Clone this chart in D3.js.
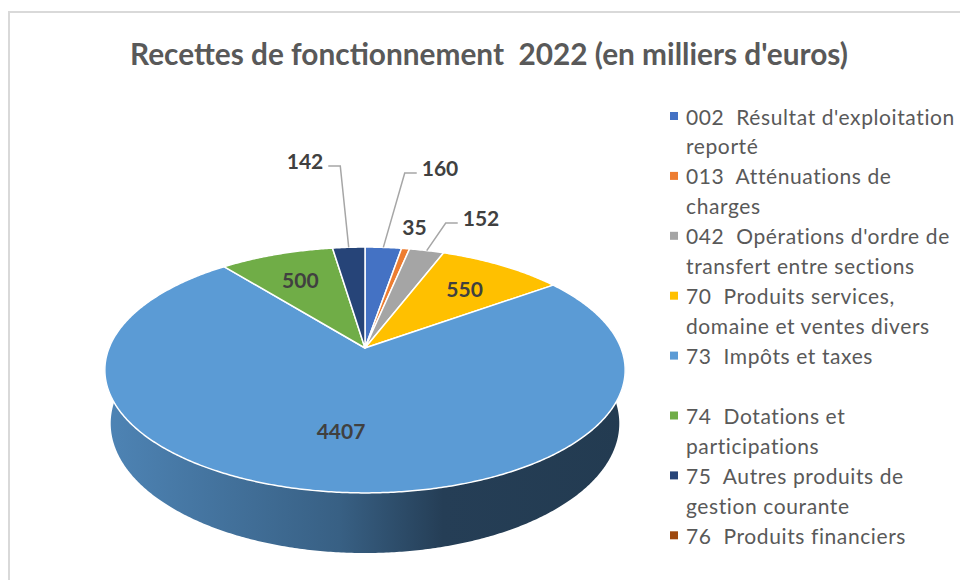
<!DOCTYPE html>
<html>
<head>
<meta charset="utf-8">
<script src="https://cdn.jsdelivr.net/npm/d3@7"></script>
<style>
  body { margin: 0; background: #fff; }
  svg { display: block; }
  text { white-space: pre; }
</style>
</head>
<body>
<div id="chart"></div>
<script>
// data
const title = "Recettes de fonctionnement  2022 (en milliers d'euros)";
const categories = [
    "002  Résultat d'exploitation\nreporté",
    "013  Atténuations de\ncharges",
    "042  Opérations d'ordre de\ntransfert entre sections",
    "70  Produits services,\ndomaine et ventes divers",
    "73  Impôts et taxes",
    "74  Dotations et\nparticipations",
    "75  Autres produits de\ngestion courante",
    "76  Produits financiers"
];
const values = [160, 35, 152, 550, 4407, 500, 142, 0];
const colors = ["#4472C4", "#ED7D31", "#A5A5A5", "#FFC000", "#5B9BD5", "#70AD47", "#264478", "#9E480E"];

const width = 960, height = 580;
const cx = 365, cy = 348;              // where the slices meet on screen
// simple perspective camera for the 3d pie
const cam = {f: 1267, dist: 4.95, tilt: 27.7 * Math.PI / 180, thick: 0.238};
// labels that Excel pushed outside, offset from the pie centre
const pushedLabels = {0: [75, -181], 2: [116, -131], 6: [-60, -188]};

function project(t, a, h) {
    let X = t * Math.sin(a), Z = t * Math.cos(a);
    let depth = cam.dist + Z * Math.cos(cam.tilt) - h * Math.sin(cam.tilt);
    let up = h * Math.cos(cam.tilt) + Z * Math.sin(cam.tilt);
    return [cx + cam.f * X / depth, cy - cam.f * up / depth];
}

function rim(a0, a1, h) {
    let n = Math.max(2, Math.ceil((a1 - a0) / (Math.PI / 360)));
    return d3.range(n + 1).map(i => project(1, a0 + (a1 - a0) * i / n, h));
}

const svg = d3.select("#chart")
    .append("svg")
    .attr("width", width)
    .attr("height", height);

// chart frame
svg.append("rect")
    .attr("x", 9).attr("y", 12)
    .attr("width", width + 20).attr("height", height + 20)
    .attr("fill", "none")
    .attr("stroke", "#d9d9d9")
    .attr("stroke-width", 2);

svg.append("text")
    .attr("x", 489).attr("y", 65)
    .attr("text-anchor", "middle")
    .attr("font-family", "Lato, 'Open Sans', sans-serif")
    .attr("font-weight", "bold")
    .attr("font-size", 30)
    .attr("fill", "#595959")
    .attr("textLength", 718)
    .attr("lengthAdjust", "spacingAndGlyphs")
    .text(title);

let pie = d3.pie().sort(null).value(d => d);
let arcs = pie(values);

// side wall shading (dark to the right)
let defs = svg.append("defs");
colors.forEach((c, i) => {
    let g = defs.append("linearGradient")
        .attr("id", "side" + i)
        .attr("gradientUnits", "userSpaceOnUse")
        .attr("x1", 105).attr("x2", 625).attr("y1", 0).attr("y2", 0);
    g.append("stop").attr("offset", "0%").attr("stop-color", d3.color(c).darker(0.45));
    g.append("stop").attr("offset", "45%").attr("stop-color", d3.color(c).darker(1.35));
    g.append("stop").attr("offset", "65%").attr("stop-color", d3.color(c).darker(2.55));
    g.append("stop").attr("offset", "100%").attr("stop-color", d3.color(c).darker(2.7));
});

let closed = d3.line().curve(d3.curveLinearClosed);
let front0 = 80 * Math.PI / 180, front1 = 280 * Math.PI / 180;

svg.append("g")
    .selectAll("path")
    .data(arcs.filter(d => d.startAngle < front1 && d.endAngle > front0))
    .join("path")
    .attr("d", d => {
        let lo = Math.max(d.startAngle, front0), hi = Math.min(d.endAngle, front1);
        let pts = rim(lo, hi, 0).concat(rim(lo, hi, -cam.thick).reverse());
        return closed(pts);
    })
    .attr("fill", d => `url(#side${d.index})`);

svg.append("g")
    .selectAll("path")
    .data(arcs.filter(d => d.value > 0))
    .join("path")
    .attr("d", d => closed([[cx, cy]].concat(rim(d.startAngle, d.endAngle, 0))))
    .attr("fill", d => colors[d.index])
    .attr("stroke", "#fff")
    .attr("stroke-width", 1.5)
    .attr("stroke-linejoin", "round");

// data labels
let labels = svg.append("g")
    .attr("font-family", "Lato, 'Open Sans', sans-serif")
    .attr("font-weight", "bold")
    .attr("font-size", 21)
    .attr("fill", "#404040");

arcs.filter(d => d.value > 0).forEach(d => {
    let mid = (d.startAngle + d.endAngle) / 2;
    let span = d.endAngle - d.startAngle;
    let inside = span > 20 * Math.PI / 180;
    let pos;
    if (inside) pos = project(span > Math.PI ? 0.62 : 0.7, mid, 0);
    else if (pushedLabels[d.index]) pos = [cx + pushedLabels[d.index][0], cy + pushedLabels[d.index][1]];
    else pos = project(1.27, mid, 0);

    let t = labels.append("text")
        .attr("x", pos[0]).attr("y", pos[1])
        .attr("text-anchor", "middle")
        .attr("dominant-baseline", "central")
        .text(d.value);

    if (pushedLabels[d.index]) {
        let tip = project(1, mid, 0);
        let side = pos[0] > tip[0] ? 1 : -1;
        let half = t.node().getComputedTextLength() / 2;
        let end = [pos[0] - side * (half + 5), pos[1] + 6];
        let elbow = [end[0] - side * 12, end[1]];
        svg.append("polyline")
            .attr("points", [end, elbow, tip].map(p => p.join(",")).join(" "))
            .attr("fill", "none")
            .attr("stroke", "#a6a6a6")
            .attr("stroke-width", 1.5);
    }
});

// legend
let rowY = d3.scaleLinear().domain([0, 1]).range([116, 175.9]);
let legend = svg.append("g")
    .attr("font-family", "Lato, 'Open Sans', sans-serif")
    .attr("font-size", 21)
    .attr("letter-spacing", 0.6)
    .attr("fill", "#595959");

categories.forEach((name, i) => {
    let y = rowY(i);
    legend.append("rect")
        .attr("x", 670).attr("y", y - 4)
        .attr("width", 8).attr("height", 8)
        .attr("fill", colors[i]);
    name.split("\n").forEach((line, j) => {
        legend.append("text")
            .attr("x", 686).attr("y", y + j * 29.7)
            .attr("dominant-baseline", "central")
            .text(line);
    });
});
</script>
</body>
</html>
